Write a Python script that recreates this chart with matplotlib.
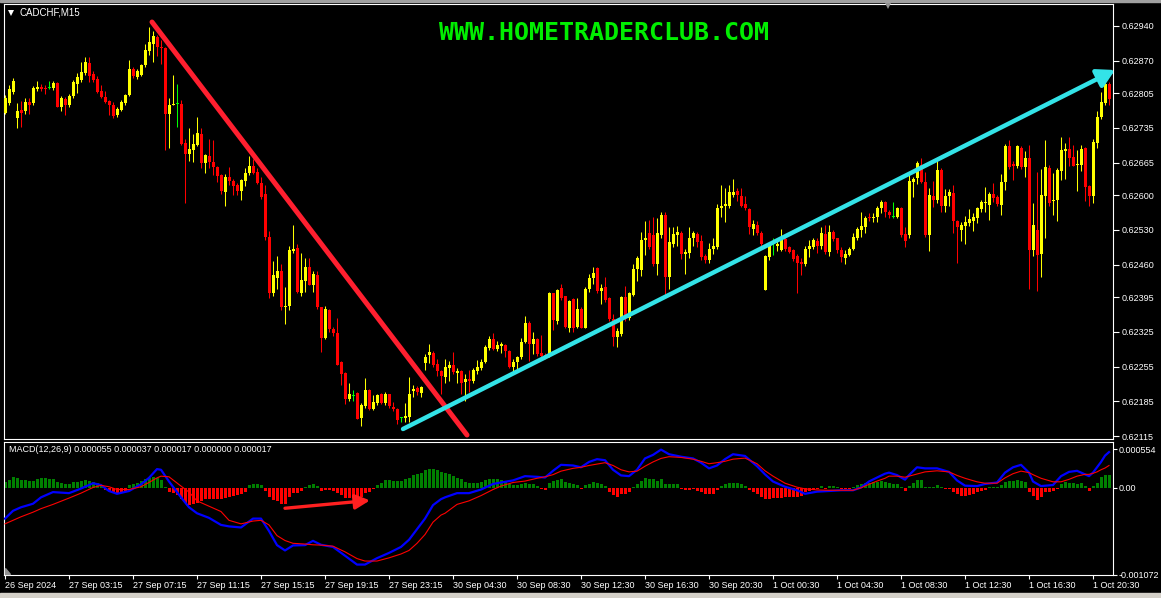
import numpy as np
import matplotlib
matplotlib.use('Agg')
import matplotlib.pyplot as plt
from matplotlib.patches import Polygon

plt.rcParams['font.family'] = ['Liberation Sans', 'DejaVu Sans']

W, H = 1161, 598

# CADCHF M15 candles, 26 Sep 23:15 .. 1 Oct 21:30
opens = [
    0.62766, 0.62785, 0.62808, 0.62755, 0.62772, 0.62770, 0.62787, 0.62785, 0.62813, 0.62817,
    0.62816, 0.62817, 0.62816, 0.62825, 0.62777, 0.62793, 0.62781, 0.62799, 0.62824, 0.62832,
    0.62846, 0.62866, 0.62844, 0.62833, 0.62810, 0.62798, 0.62790, 0.62782, 0.62761, 0.62772,
    0.62785, 0.62801, 0.62853, 0.62837, 0.62842, 0.62861, 0.62890, 0.62904, 0.62917, 0.62898,
    0.62895, 0.62763, 0.62782, 0.62784, 0.62783, 0.62705, 0.62683, 0.62690, 0.62701, 0.62723,
    0.62665, 0.62678, 0.62667, 0.62656, 0.62640, 0.62607, 0.62636, 0.62629, 0.62620, 0.62608,
    0.62629, 0.62645, 0.62658, 0.62647, 0.62625, 0.62602, 0.62516, 0.62403, 0.62433, 0.62448,
    0.62374, 0.62377, 0.62488, 0.62493, 0.62404, 0.62428, 0.62456, 0.62420, 0.62439, 0.62375,
    0.62313, 0.62368, 0.62330, 0.62323, 0.62264, 0.62242, 0.62190, 0.62198, 0.62203, 0.62152,
    0.62176, 0.62208, 0.62169, 0.62181, 0.62200, 0.62181, 0.62200, 0.62174, 0.62170, 0.62152,
    0.62152, 0.62154, 0.62207, 0.62212, 0.62203, 0.62263, 0.62279, 0.62283, 0.62261, 0.62246,
    0.62235, 0.62253, 0.62259, 0.62243, 0.62246, 0.62224, 0.62230, 0.62227, 0.62246, 0.62253,
    0.62265, 0.62292, 0.62310, 0.62290, 0.62297, 0.62299, 0.62287, 0.62254, 0.62265, 0.62274,
    0.62305, 0.62342, 0.62301, 0.62311, 0.62282, 0.62279, 0.62277, 0.62403, 0.62346, 0.62413,
    0.62397, 0.62333, 0.62391, 0.62335, 0.62371, 0.62333, 0.62411, 0.62433, 0.62453, 0.62408,
    0.62415, 0.62393, 0.62350, 0.62314, 0.62321, 0.62395, 0.62352, 0.62400, 0.62451, 0.62449,
    0.62509, 0.62524, 0.62520, 0.62462, 0.62520, 0.62560, 0.62435, 0.62502, 0.62520, 0.62524,
    0.62482, 0.62484, 0.62514, 0.62522, 0.62507, 0.62478, 0.62469, 0.62492, 0.62495, 0.62574,
    0.62578, 0.62579, 0.62601, 0.62609, 0.62598, 0.62582, 0.62573, 0.62531, 0.62540, 0.62524,
    0.62410, 0.62475, 0.62502, 0.62498, 0.62490, 0.62511, 0.62495, 0.62490, 0.62477, 0.62466,
    0.62461, 0.62492, 0.62495, 0.62507, 0.62498, 0.62521, 0.62485, 0.62526, 0.62513, 0.62490,
    0.62473, 0.62480, 0.62491, 0.62513, 0.62529, 0.62535, 0.62555, 0.62553, 0.62555, 0.62574,
    0.62587, 0.62567, 0.62556, 0.62555, 0.62574, 0.62522, 0.62519, 0.62627, 0.62634, 0.62661,
    0.62627, 0.62520, 0.62598, 0.62591, 0.62650, 0.62578, 0.62598, 0.62605, 0.62547, 0.62529,
    0.62538, 0.62543, 0.62548, 0.62553, 0.62573, 0.62585, 0.62580, 0.62602, 0.62596, 0.62580,
    0.62627, 0.62698, 0.62663, 0.62658, 0.62695, 0.62656, 0.62674, 0.62490, 0.62529, 0.62482,
    0.62598, 0.62654, 0.62589, 0.62590, 0.62649, 0.62688, 0.62692, 0.62676, 0.62661, 0.62661,
    0.62694, 0.62618, 0.62598, 0.62705, 0.62757, 0.62786, 0.62823,
]
highs = [
    0.62801, 0.62821, 0.62835, 0.62785, 0.62790, 0.62795, 0.62795, 0.62819, 0.62829, 0.62823,
    0.62821, 0.62829, 0.62829, 0.62828, 0.62799, 0.62797, 0.62803, 0.62832, 0.62846, 0.62868,
    0.62877, 0.62877, 0.62850, 0.62839, 0.62821, 0.62810, 0.62792, 0.62788, 0.62777, 0.62792,
    0.62804, 0.62871, 0.62857, 0.62853, 0.62864, 0.62903, 0.62937, 0.62929, 0.62922, 0.62911,
    0.62898, 0.62795, 0.62842, 0.62824, 0.62792, 0.62712, 0.62734, 0.62723, 0.62757, 0.62734,
    0.62683, 0.62712, 0.62710, 0.62659, 0.62643, 0.62643, 0.62656, 0.62632, 0.62625, 0.62632,
    0.62654, 0.62679, 0.62672, 0.62654, 0.62636, 0.62620, 0.62527, 0.62467, 0.62478, 0.62462,
    0.62415, 0.62498, 0.62540, 0.62502, 0.62484, 0.62474, 0.62474, 0.62448, 0.62448, 0.62375,
    0.62377, 0.62371, 0.62335, 0.62353, 0.62266, 0.62245, 0.62223, 0.62208, 0.62205, 0.62181,
    0.62232, 0.62210, 0.62198, 0.62201, 0.62203, 0.62205, 0.62201, 0.62183, 0.62172, 0.62154,
    0.62181, 0.62234, 0.62219, 0.62216, 0.62217, 0.62281, 0.62301, 0.62287, 0.62270, 0.62248,
    0.62270, 0.62266, 0.62285, 0.62252, 0.62248, 0.62241, 0.62248, 0.62252, 0.62268, 0.62270,
    0.62299, 0.62317, 0.62322, 0.62306, 0.62305, 0.62301, 0.62288, 0.62270, 0.62277, 0.62313,
    0.62357, 0.62346, 0.62324, 0.62313, 0.62319, 0.62282, 0.62406, 0.62404, 0.62411, 0.62422,
    0.62398, 0.62390, 0.62393, 0.62393, 0.62374, 0.62415, 0.62442, 0.62456, 0.62455, 0.62422,
    0.62435, 0.62395, 0.62361, 0.62333, 0.62397, 0.62417, 0.62406, 0.62462, 0.62477, 0.62526,
    0.62548, 0.62549, 0.62555, 0.62553, 0.62567, 0.62567, 0.62535, 0.62535, 0.62538, 0.62527,
    0.62491, 0.62535, 0.62527, 0.62526, 0.62519, 0.62482, 0.62504, 0.62513, 0.62582, 0.62621,
    0.62614, 0.62621, 0.62632, 0.62614, 0.62614, 0.62598, 0.62574, 0.62550, 0.62548, 0.62527,
    0.62480, 0.62506, 0.62513, 0.62513, 0.62531, 0.62516, 0.62498, 0.62492, 0.62482, 0.62473,
    0.62498, 0.62509, 0.62513, 0.62513, 0.62536, 0.62540, 0.62540, 0.62529, 0.62514, 0.62495,
    0.62490, 0.62495, 0.62524, 0.62535, 0.62565, 0.62558, 0.62564, 0.62564, 0.62579, 0.62590,
    0.62589, 0.62571, 0.62587, 0.62577, 0.62577, 0.62535, 0.62640, 0.62637, 0.62669, 0.62674,
    0.62647, 0.62614, 0.62629, 0.62672, 0.62654, 0.62613, 0.62613, 0.62620, 0.62549, 0.62545,
    0.62558, 0.62572, 0.62564, 0.62577, 0.62591, 0.62616, 0.62607, 0.62625, 0.62600, 0.62643,
    0.62703, 0.62710, 0.62669, 0.62700, 0.62698, 0.62688, 0.62701, 0.62584, 0.62647, 0.62652,
    0.62710, 0.62661, 0.62645, 0.62654, 0.62716, 0.62705, 0.62716, 0.62701, 0.62690, 0.62700,
    0.62697, 0.62621, 0.62712, 0.62770, 0.62808, 0.62835, 0.62828,
]
lows = [
    0.62763, 0.62781, 0.62803, 0.62734, 0.62737, 0.62763, 0.62763, 0.62782, 0.62810, 0.62810,
    0.62804, 0.62813, 0.62811, 0.62777, 0.62770, 0.62761, 0.62777, 0.62795, 0.62806, 0.62828,
    0.62842, 0.62828, 0.62828, 0.62806, 0.62795, 0.62785, 0.62761, 0.62754, 0.62756, 0.62770,
    0.62781, 0.62799, 0.62835, 0.62833, 0.62840, 0.62857, 0.62882, 0.62868, 0.62879, 0.62864,
    0.62690, 0.62694, 0.62781, 0.62737, 0.62701, 0.62585, 0.62669, 0.62666, 0.62698, 0.62654,
    0.62645, 0.62654, 0.62640, 0.62627, 0.62603, 0.62578, 0.62621, 0.62600, 0.62600, 0.62591,
    0.62618, 0.62640, 0.62643, 0.62623, 0.62592, 0.62509, 0.62393, 0.62397, 0.62411, 0.62368,
    0.62341, 0.62368, 0.62484, 0.62404, 0.62397, 0.62406, 0.62419, 0.62406, 0.62371, 0.62285,
    0.62310, 0.62324, 0.62317, 0.62258, 0.62219, 0.62179, 0.62187, 0.62187, 0.62149, 0.62136,
    0.62172, 0.62167, 0.62167, 0.62178, 0.62179, 0.62178, 0.62172, 0.62165, 0.62140, 0.62143,
    0.62143, 0.62143, 0.62194, 0.62198, 0.62194, 0.62248, 0.62263, 0.62255, 0.62237, 0.62201,
    0.62223, 0.62227, 0.62241, 0.62223, 0.62201, 0.62187, 0.62205, 0.62223, 0.62241, 0.62248,
    0.62263, 0.62288, 0.62288, 0.62287, 0.62282, 0.62274, 0.62252, 0.62245, 0.62248, 0.62270,
    0.62303, 0.62266, 0.62281, 0.62277, 0.62270, 0.62270, 0.62275, 0.62328, 0.62340, 0.62390,
    0.62332, 0.62324, 0.62324, 0.62332, 0.62332, 0.62332, 0.62406, 0.62422, 0.62404, 0.62382,
    0.62386, 0.62346, 0.62297, 0.62295, 0.62317, 0.62346, 0.62348, 0.62397, 0.62427, 0.62437,
    0.62480, 0.62492, 0.62458, 0.62439, 0.62513, 0.62401, 0.62411, 0.62495, 0.62498, 0.62471,
    0.62442, 0.62473, 0.62498, 0.62495, 0.62469, 0.62463, 0.62463, 0.62482, 0.62491, 0.62556,
    0.62545, 0.62574, 0.62596, 0.62589, 0.62577, 0.62571, 0.62521, 0.62520, 0.62519, 0.62498,
    0.62410, 0.62469, 0.62480, 0.62487, 0.62487, 0.62487, 0.62484, 0.62468, 0.62403, 0.62440,
    0.62458, 0.62475, 0.62491, 0.62484, 0.62491, 0.62482, 0.62478, 0.62507, 0.62484, 0.62466,
    0.62462, 0.62477, 0.62490, 0.62509, 0.62516, 0.62524, 0.62548, 0.62545, 0.62545, 0.62564,
    0.62556, 0.62553, 0.62553, 0.62553, 0.62516, 0.62496, 0.62513, 0.62596, 0.62623, 0.62625,
    0.62516, 0.62487, 0.62577, 0.62584, 0.62565, 0.62567, 0.62578, 0.62524, 0.62464, 0.62507,
    0.62502, 0.62538, 0.62527, 0.62543, 0.62565, 0.62567, 0.62550, 0.62587, 0.62578, 0.62560,
    0.62611, 0.62652, 0.62630, 0.62654, 0.62652, 0.62636, 0.62411, 0.62478, 0.62408, 0.62435,
    0.62514, 0.62578, 0.62560, 0.62548, 0.62630, 0.62632, 0.62659, 0.62658, 0.62608, 0.62649,
    0.62589, 0.62579, 0.62584, 0.62694, 0.62752, 0.62781, 0.62781,
]
closes = [
    0.62795, 0.62813, 0.62830, 0.62770, 0.62766, 0.62788, 0.62782, 0.62816, 0.62817, 0.62814,
    0.62813, 0.62817, 0.62826, 0.62777, 0.62795, 0.62781, 0.62799, 0.62828, 0.62837, 0.62848,
    0.62868, 0.62839, 0.62832, 0.62808, 0.62798, 0.62788, 0.62781, 0.62759, 0.62774, 0.62788,
    0.62801, 0.62853, 0.62839, 0.62850, 0.62861, 0.62892, 0.62908, 0.62919, 0.62898, 0.62895,
    0.62763, 0.62781, 0.62784, 0.62784, 0.62703, 0.62683, 0.62692, 0.62703, 0.62724, 0.62665,
    0.62681, 0.62666, 0.62656, 0.62639, 0.62608, 0.62636, 0.62629, 0.62618, 0.62608, 0.62630,
    0.62645, 0.62658, 0.62645, 0.62625, 0.62596, 0.62516, 0.62403, 0.62439, 0.62448, 0.62374,
    0.62377, 0.62490, 0.62492, 0.62406, 0.62429, 0.62456, 0.62420, 0.62442, 0.62374, 0.62313,
    0.62371, 0.62330, 0.62323, 0.62259, 0.62241, 0.62190, 0.62200, 0.62198, 0.62150, 0.62178,
    0.62208, 0.62169, 0.62184, 0.62198, 0.62181, 0.62201, 0.62176, 0.62169, 0.62148, 0.62152,
    0.62156, 0.62200, 0.62210, 0.62205, 0.62214, 0.62275, 0.62284, 0.62259, 0.62246, 0.62236,
    0.62255, 0.62259, 0.62245, 0.62246, 0.62222, 0.62230, 0.62227, 0.62248, 0.62255, 0.62265,
    0.62294, 0.62311, 0.62290, 0.62299, 0.62301, 0.62287, 0.62254, 0.62264, 0.62274, 0.62305,
    0.62342, 0.62301, 0.62311, 0.62281, 0.62277, 0.62275, 0.62403, 0.62348, 0.62410, 0.62393,
    0.62335, 0.62387, 0.62333, 0.62371, 0.62333, 0.62411, 0.62433, 0.62444, 0.62408, 0.62413,
    0.62390, 0.62350, 0.62315, 0.62326, 0.62395, 0.62353, 0.62403, 0.62451, 0.62473, 0.62509,
    0.62513, 0.62495, 0.62462, 0.62524, 0.62560, 0.62435, 0.62506, 0.62521, 0.62525, 0.62482,
    0.62485, 0.62513, 0.62524, 0.62506, 0.62475, 0.62469, 0.62492, 0.62498, 0.62574, 0.62579,
    0.62583, 0.62607, 0.62607, 0.62601, 0.62579, 0.62574, 0.62535, 0.62542, 0.62524, 0.62502,
    0.62478, 0.62498, 0.62502, 0.62502, 0.62509, 0.62491, 0.62485, 0.62471, 0.62463, 0.62461,
    0.62492, 0.62498, 0.62509, 0.62497, 0.62524, 0.62485, 0.62526, 0.62511, 0.62490, 0.62475,
    0.62482, 0.62492, 0.62516, 0.62531, 0.62538, 0.62554, 0.62553, 0.62556, 0.62574, 0.62587,
    0.62567, 0.62560, 0.62556, 0.62574, 0.62519, 0.62507, 0.62629, 0.62632, 0.62665, 0.62627,
    0.62519, 0.62600, 0.62591, 0.62650, 0.62578, 0.62598, 0.62607, 0.62547, 0.62535, 0.62540,
    0.62545, 0.62551, 0.62555, 0.62574, 0.62587, 0.62587, 0.62602, 0.62595, 0.62582, 0.62627,
    0.62698, 0.62656, 0.62659, 0.62698, 0.62656, 0.62674, 0.62490, 0.62540, 0.62480, 0.62600,
    0.62656, 0.62585, 0.62591, 0.62650, 0.62690, 0.62692, 0.62674, 0.62659, 0.62663, 0.62692,
    0.62616, 0.62598, 0.62707, 0.62757, 0.62788, 0.62823, 0.62793,
]

# MACD histogram, one bar per candle (values in 1e-6)
macd_hist = [
    69, 99, 134, 121, 99, 99, 90, 90, 112, 121,
    121, 112, 108, 69, 56, 43, 47, 69, 78, 90,
    99, 90, 78, 56, 22, -22, -39, -65, -60, -52,
    -39, 34, 47, 65, 90, 108, 121, 134, 121, 99,
    13, -52, -65, -86, -138, -181, -203, -194, -181, -159,
    -138, -138, -129, -129, -129, -120, -108, -95, -86, -73,
    -43, 34, 43, 43, 34, -34, -108, -151, -159, -194,
    -194, -108, -65, -65, -34, 17, 34, 43, 22, -34,
    -22, -22, -34, -65, -86, -121, -121, -121, -121, -108,
    -65, -43, -13, 34, 65, 95, 95, 86, 86, 86,
    108, 121, 164, 172, 185, 215, 237, 237, 215, 194,
    180, 172, 151, 121, 108, 78, 65, 65, 65, 78,
    95, 108, 108, 108, 95, 78, 52, 34, 34, 52,
    65, 52, 43, 22, -13, -22, 65, 86, 95, 108,
    78, 65, 43, 34, -13, 34, 52, 78, 65, 43,
    22, -43, -86, -108, -78, -78, -52, 13, 52, 86,
    121, 108, 108, 86, 108, 43, 43, 43, 43, -13,
    -22, -22, -13, -34, -43, -78, -78, -78, -22, 22,
    43, 56, 65, 65, 43, 22, -22, -52, -78, -108,
    -129, -129, -121, -121, -121, -108, -108, -108, -108, -95,
    -52, -34, -22, -13, 22, -13, 22, 22, 13, -13,
    -13, -13, 13, 34, 43, 65, 65, 78, 78, 86,
    78, 65, 52, 43, 13, -34, 22, 65, 95, 95,
    13, 13, 13, 34, 13, -13, -13, -43, -78, -99,
    -99, -86, -78, -52, -34, -22, 13, 13, 13, 34,
    78, 86, 86, 95, 86, 78, -43, -95, -151, -108,
    -52, -52, -34, -13, 43, 78, 65, 65, 52, 65,
    22, -34, 22, 65, 129, 164, 164,
]

# MACD main / signal lines read at these candles (values in 1e-6)
line_idx = [
    0, 2, 4, 7, 9, 12, 16, 19, 22, 24, 26, 28, 31, 34, 36, 38, 39, 41, 44, 46,
    48, 51, 54, 56, 59, 62, 64, 66, 68, 70, 72, 75, 77, 79, 82, 85, 88, 90, 93, 96,
    99, 101, 103, 105, 107, 109, 110, 113, 116, 119, 122, 124, 127, 130, 133, 135, 137, 139, 142, 144,
    146, 148, 150, 152, 154, 156, 158, 160, 162, 164, 166, 169, 172, 174, 176, 178, 180, 182, 185, 188,
    190, 192, 195, 198, 200, 203, 206, 209, 212, 214, 216, 218, 220, 221, 223, 225, 226, 228, 230, 233,
    236, 238, 240, 243, 245, 248, 250, 252, 254, 256, 257, 259, 262, 264, 266, 268, 270, 271, 272, 273,
    274, 275, 276,
]
macd_main = [
    -373, -278, -235, -192, -114, -50, -63, -7, 58, 36, -37, -71, -37, 45, 123, 230, 222, 79, -114, -235,
    -308, -364, -450, -468, -481, -373, -373, -524, -696, -761, -700, -696, -644, -692, -718, -825, -933, -933, -855, -791,
    -718, -631, -502, -373, -209, -136, -114, -63, -63, -19, 49, 67, 92, 144, 136, 127, 209, 282, 274, 252,
    317, 351, 338, 222, 153, 144, 222, 360, 403, 467, 411, 381, 360, 308, 239, 274, 351, 411, 390, 265,
    166, 79, 15, -28, -71, -45, -37, -28, -28, 6, 79, 127, 174, 187, 157, 101, 157, 252, 239, 239,
    196, 92, 28, 23, 49, 67, 187, 252, 282, 187, 79, 23, 36, 144, 196, 209, 166, 144, 187, 252,
    317, 394, 437,
]
macd_signal = [
    -437, -394, -351, -295, -252, -200, -123, -63, 6, 32, 15, -19, -19, 15, 67, 123, 144, 136, 23, -50,
    -157, -222, -287, -394, -437, -403, -394, -450, -580, -640, -674, -683, -692, -696, -709, -778, -860, -890, -890, -851,
    -804, -761, -674, -567, -416, -330, -308, -200, -157, -93, -19, 23, 67, 84, 118, 136, 162, 205, 239, 252,
    274, 291, 308, 274, 222, 196, 205, 265, 317, 360, 381, 372, 351, 325, 295, 308, 325, 351, 364, 295,
    209, 144, 58, 10, -11, -24, -28, -28, -28, 2, 45, 84, 118, 144, 144, 131, 144, 170, 196, 209,
    196, 153, 118, 75, 58, 58, 123, 174, 205, 187, 162, 118, 75, 75, 105, 144, 166, 166, 179, 196,
    222, 243, 274,
]

price_ticks = [0.62115, 0.62185, 0.62255, 0.62325, 0.62395, 0.62460, 0.62530,
               0.62600, 0.62665, 0.62735, 0.62805, 0.62870, 0.62940]
time_tick_idx = list(range(0, 273, 16))
time_labels = ['26 Sep 2024', '27 Sep 03:15', '27 Sep 07:15', '27 Sep 11:15',
               '27 Sep 15:15', '27 Sep 19:15', '27 Sep 23:15', '30 Sep 04:30',
               '30 Sep 08:30', '30 Sep 12:30', '30 Sep 16:30', '30 Sep 20:30',
               '1 Oct 00:30', '1 Oct 04:30', '1 Oct 08:30', '1 Oct 12:30',
               '1 Oct 16:30', '1 Oct 20:30']

# hand drawn objects (candle index, price)
down_line_idx = [36.75, 115.5]
down_line_price = [0.62948, 0.621176]
up_line_idx = [99.5, 277.5]
up_line_price = [0.621297, 0.628515]
macd_arrow_idx = [70, 91.25]
macd_arrow_val = [-0.000247, -0.000151]

macd_top, macd_zero, macd_bottom = 0.000554, 0.0, -0.001072


fig = plt.figure(figsize=(W / 100, H / 100), dpi=100, facecolor='black')


def px_axes(left, top, right, bottom):
    a = fig.add_axes([left / W, 1 - bottom / H, (right - left) / W, (bottom - top) / H])
    a.set_facecolor('black')
    for s in a.spines.values():
        s.set_color('white')
        s.set_linewidth(0.8)
    return a


ax = px_axes(3.5, 4, 1113.3, 439)
ax2 = px_axes(3.5, 442, 1113.3, 575)

o = np.array(opens)
hi = np.array(highs)
lo = np.array(lows)
c = np.array(closes)
x = np.arange(len(o))

col = np.where(c > o, '#FFFF00', np.where(c < o, '#FF0000', '#00FF00'))
ax.set_xlim(-0.375, 277.07)
ax.set_ylim(0.621096, 0.629842)
px = (0.629842 - 0.621096) / 435.0
ax.vlines(x, lo, hi, colors=col, lw=0.75, zorder=2)
body_h = np.maximum(np.abs(c - o), px)
body_lo = np.where(np.abs(c - o) < px, (o + c) / 2 - px / 2, np.minimum(o, c))
ax.bar(x, body_h, 0.75, bottom=body_lo, color=col, linewidth=0, zorder=3)

ax.plot(down_line_idx, down_line_price, color='#FF1F2F', lw=3.6,
        solid_capstyle='round', zorder=5)
ax.annotate('', xy=(up_line_idx[1], up_line_price[1]),
            xytext=(up_line_idx[0], up_line_price[0]),
            arrowprops=dict(arrowstyle='-|>,head_length=0.8,head_width=0.45',
                            color='#33E3E8', lw=3.2, mutation_scale=13,
                            shrinkA=0, shrinkB=0),
            annotation_clip=False, zorder=6)

ax.yaxis.tick_right()
ax.set_yticks(price_ticks, [f'{p:.5f}' for p in price_ticks])
ax.tick_params(axis='y', colors='white', length=4, width=0.8, labelsize=6.5, pad=2)
ax.set_xticks([])

# MACD panel
hv = np.array(macd_hist) * 1e-6
ax2.set_xlim(-0.375, 277.07)
ax2.set_ylim(-0.001036, 0.000560)
vpp = (0.000560 + 0.001036) / 133.0
ax2.bar(x, hv, 0.75, color=np.where(hv >= 0, '#008000', '#FF0000'), linewidth=0, zorder=2)
ax2.plot(line_idx, np.array(macd_main) * 1e-6, color='#0000FF', lw=1.6, zorder=3)
ax2.plot(line_idx, np.array(macd_signal) * 1e-6, color='#FF0000', lw=0.8, zorder=4)
ax2.annotate('', xy=(macd_arrow_idx[1], macd_arrow_val[1]),
             xytext=(macd_arrow_idx[0], macd_arrow_val[0]),
             arrowprops=dict(arrowstyle='-|>,head_length=0.8,head_width=0.4',
                             color='#FF2020', lw=2.4, mutation_scale=11,
                             shrinkA=0, shrinkB=0), zorder=5)

ax2.yaxis.tick_right()
ax2.set_yticks([macd_top - 7 * vpp, macd_zero, macd_bottom + 1 * vpp],
               ['0.000554', '0.00', '-0.001072'])
ax2.tick_params(axis='y', colors='white', length=3, width=0.8, labelsize=6.5, pad=1)
ax2.set_xticks(time_tick_idx, time_labels)
for t in ax2.get_xticklabels():
    t.set_ha('left')
ax2.tick_params(axis='x', colors='white', length=3, width=0.8, labelsize=6.5, pad=1.5)

# texts
fig.text(604 / W, 1 - 33 / H, 'WWW.HOMETRADERCLUB.COM', family='DejaVu Sans Mono',
         weight='bold', fontsize=18, color='#00EE00', ha='center', va='center')
fig.text(20 / W, 1 - 12.7 / H, 'CADCHF,M15', fontsize=7, color='white', va='center')
fig.text(9 / W, 1 - 450 / H, 'MACD(12,26,9) 0.000055 0.000037 0.000017 0.000000 0.000017',
         fontsize=6.5, color='white', va='center')
fig.add_artist(plt.Line2D([11 / W], [1 - 13 / H], marker='v', ms=4.5, color='white',
                          mew=0, transform=fig.transFigure))
fig.add_artist(plt.Line2D([888 / W], [1 - 6 / H], marker='v', ms=5, color='#909090',
                          mew=0, transform=fig.transFigure))
fig.add_artist(Polygon([[4.5 / W, 1 - 568 / H], [4.5 / W, 1 - 574 / H], [10 / W, 1 - 574 / H]],
                       closed=True, color='#909090', transform=fig.transFigure))
# window edges
fig.add_artist(plt.Rectangle((0, 1 - 1.5 / H), 1, 1.5 / H, color='#a0a0a0',
                             transform=fig.transFigure))
fig.add_artist(plt.Rectangle((0, 0), 1, 5 / H, color='#d4d0c8', transform=fig.transFigure))

fig.savefig('out.png', dpi=100, facecolor='black')
